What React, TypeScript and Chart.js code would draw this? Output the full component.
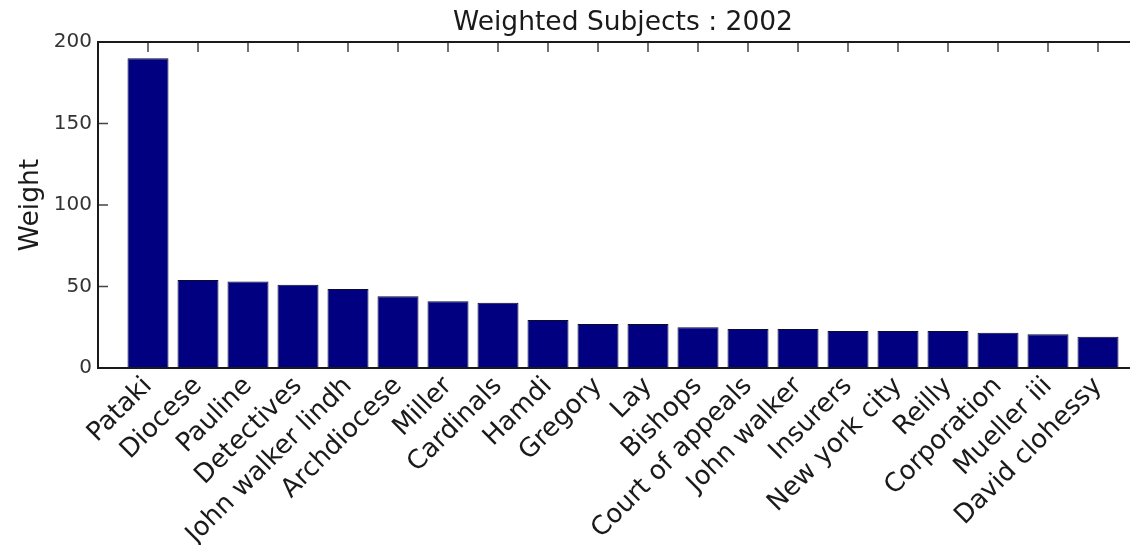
import { useEffect, useRef } from 'react';
import { Chart, registerables } from 'chart.js';

Chart.register(...registerables);

const categories = [
  'Pataki', 'Diocese', 'Pauline', 'Detectives', 'John walker lindh', 'Archdiocese',
  'Miller', 'Cardinals', 'Hamdi', 'Gregory', 'Lay', 'Bishops', 'Court of appeals',
  'John walker', 'Insurers', 'New york city', 'Reilly', 'Corporation', 'Mueller iii',
  'David clohessy',
];
const weights = [190, 54, 53, 51, 48.5, 44, 41, 40, 29.5, 27, 27, 25, 24, 24, 22.7, 22.7, 22.7, 21.7, 20.7, 19.2];
const yTicks = [0, 50, 100, 150, 200];
const chartTitle = 'Weighted Subjects : 2002';
const yAxisTitle = 'Weight';

const FONT = "'DejaVu Sans', 'Liberation Sans', sans-serif";

const framePlugin = {
  id: 'matlabFrame',
  afterDatasetsDraw(chart: any) {
    const { ctx, chartArea, scales } = chart;
    const { left, right, top, bottom } = chartArea;
    ctx.save();
    ctx.strokeStyle = '#444';
    ctx.lineWidth = 1.5;
    ctx.beginPath();
    for (const v of yTicks) {
      const y = scales.y.getPixelForValue(v);
      ctx.moveTo(left, y);
      ctx.lineTo(left + 10, y);
      ctx.moveTo(right, y);
      ctx.lineTo(right - 10, y);
    }
    for (let i = 0; i < categories.length; i++) {
      const x = scales.x.getPixelForValue(i + 1);
      ctx.moveTo(x, top);
      ctx.lineTo(x, top + 10);
    }
    ctx.stroke();
    ctx.strokeStyle = '#1a1a1a';
    ctx.lineWidth = 2;
    ctx.strokeRect(left, top, right - left, bottom - top);
    ctx.restore();
  },
};

export default function App() {
  const ref = useRef<HTMLCanvasElement>(null);

  useEffect(() => {
    if (!ref.current) return;
    const chart = new Chart(ref.current, {
      type: 'bar',
      data: {
        datasets: [
          {
            data: weights.map((w, i) => ({ x: i + 1, y: w })),
            backgroundColor: '#000080',
            borderColor: '#0b0b30',
            borderWidth: 1,
            categoryPercentage: 1,
            barPercentage: 0.82,
          },
        ],
      },
      options: {
        responsive: false,
        animation: false,
        devicePixelRatio: 1,
        layout: { padding: { left: 0, right: 12, top: 0, bottom: 0 } },
        plugins: {
          legend: { display: false },
          tooltip: { enabled: false },
          title: {
            display: true,
            text: chartTitle,
            fullSize: false,
            color: '#1a1a1a',
            font: { family: FONT, size: 26.5, weight: 'normal' },
            padding: { top: 7.5, bottom: 2.7 },
          },
        },
        scales: {
          x: {
            type: 'linear',
            offset: false,
            min: 0,
            max: 21,
            grid: { display: false, drawTicks: false, offset: false },
            border: { display: false },
            ticks: {
              stepSize: 1,
              autoSkip: false,
              maxRotation: 45,
              minRotation: 45,
              padding: 3,
              color: '#1a1a1a',
              font: { family: FONT, size: 26 },
              callback: (v: any) => categories[Number(v) - 1] ?? '',
            },
            afterBuildTicks: (s: any) => {
              s.ticks = s.ticks.filter((t: any) => t.value >= 1 && t.value <= categories.length);
            },
            afterFit: (s: any) => {
              s.height = 177;
              s.paddingLeft = 0;
              s.paddingRight = 0;
            },
          },
          y: {
            min: 0,
            max: 200,
            grid: { display: false, drawTicks: false },
            border: { display: false },
            ticks: {
              stepSize: 50,
              padding: 6,
              color: '#333',
              font: { family: FONT, size: 20 },
            },
            afterBuildTicks: (s: any) => {
              s.ticks = yTicks.map((v) => ({ value: v }));
            },
            title: {
              display: true,
              text: yAxisTitle,
              color: '#1a1a1a',
              font: { family: FONT, size: 26.5 },
              padding: { top: 15, bottom: 0 },
            },
            afterFit: (s: any) => {
              s.width = 98;
              s.paddingTop = 0;
              s.paddingBottom = 0;
            },
          },
        },
      },
      plugins: [framePlugin],
    } as any);
    return () => chart.destroy();
  }, []);

  return (
    <div
      style={{
        position: 'absolute',
        left: 0,
        top: 0,
        width: 1130,
        height: 545,
        overflow: 'hidden',
        background: '#fff',
      }}
    >
      <canvas ref={ref} width={1160} height={545} style={{ display: 'block' }} />
    </div>
  );
}
